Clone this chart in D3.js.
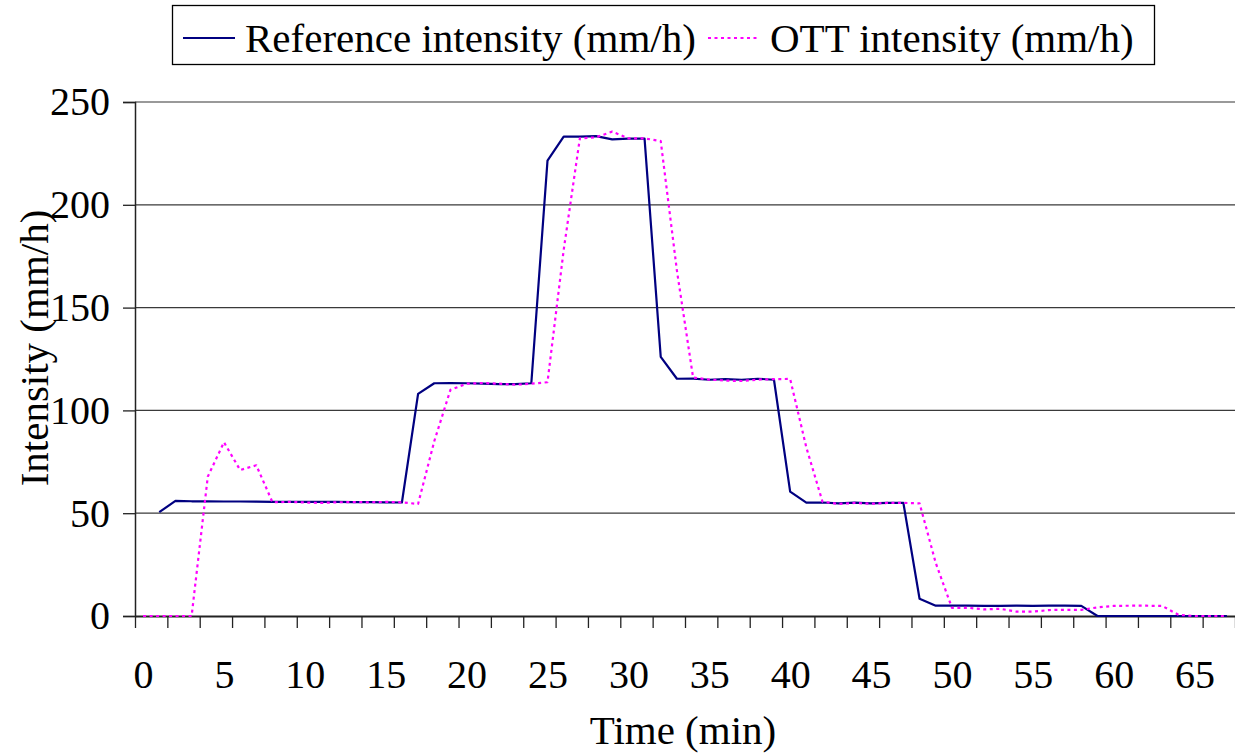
<!DOCTYPE html>
<html>
<head>
<meta charset="utf-8">
<script src="https://cdn.jsdelivr.net/npm/d3@7"></script>
<style>
  body { margin: 0; background: #fff; }
  svg text { font-family: "Liberation Serif", "Times New Roman", serif; fill: #000; }
</style>
</head>
<body>
<svg id="chart" width="1235" height="753"></svg>
<script>
// time in minutes (categories 0..67)
let minutes = d3.range(0, 68);

// reference intensity (mm/h), no value at t = 0
let ref_values = [null, 50.5, 56, 55.8, 55.8, 55.7, 55.7, 55.6, 55.5, 55.5,
  55.5, 55.5, 55.5, 55.4, 55.4, 55.3, 55.2, 108, 113.2, 113.3,
  113.2, 113, 112.8, 112.8, 113.2, 221.5, 233.2, 233.2, 233.4, 231.8,
  232.2, 232.2, 126, 115.4, 115.5, 114.9, 115.2, 114.9, 115.4, 114.9,
  60.5, 55.1, 55.2, 54.8, 55.1, 54.8, 55, 55, 8.4, 5.0,
  5.0, 5.0, 4.9, 4.9, 5.0, 4.9, 5.0, 5.0, 4.9, 0,
  0, 0, 0, 0, 0, 0, 0, 0];

// OTT intensity (mm/h)
let ott_values = [0, 0, 0, 0, 67.8, 84.5, 71, 73.3, 55.3, 55.5,
  55.2, 55, 55.3, 55.4, 55.3, 55.5, 55.3, 54.5, 85, 110,
  113, 113.3, 113, 112.5, 113, 113.7, 178, 232.3, 232.8, 235.6,
  232.3, 232.3, 231, 168, 116, 115, 114.5, 114.3, 115, 115.2,
  115.3, 82, 55.6, 54.5, 55, 54.6, 55, 55, 54.8, 25.8,
  4.0, 4.0, 3.2, 3.5, 2.1, 2.1, 2.9, 3.0, 3.0, 4.2,
  4.9, 5, 5, 4.9, 0.6, 0, 0, 0];

let y_ticks = [0, 50, 100, 150, 200, 250];
let x_label_ticks = d3.range(0, 70, 5);
let x_mark_ticks = d3.range(0, 69, 2);

let series = [
  {name: "Reference intensity (mm/h)", values: ref_values, color: "#000080", dash: null},
  {name: "OTT intensity (mm/h)", values: ott_values, color: "#ff00ff", dash: "3,3.5"}
];

/*** layout ***/
let svg = d3.select("#chart");
let plot = {left: 135, right: 1235, top: 102, bottom: 616};

let x = d3.scaleLinear().domain([0, minutes.length]).range([plot.left, plot.right]),
    y = d3.scaleLinear().domain([0, 250]).range([plot.bottom, plot.top]);

// gridlines
svg.append("g")
  .selectAll("line")
  .data(y_ticks.filter((d) => d > 0)).enter()
  .append("line")
  .attr("x1", plot.left)
  .attr("x2", plot.right)
  .attr("y1", (d) => y(d))
  .attr("y2", (d) => y(d))
  .attr("stroke", (d) => d === 250 ? "#999" : "#3a3a3a")
  .attr("stroke-width", (d) => d === 250 ? 2 : 1.3);

// y axis
let y_axis = svg.append("g")
  .attr("transform", `translate(${plot.left},0)`)
  .call(d3.axisLeft(y).tickValues(y_ticks).tickSize(12).tickPadding(13).tickFormat(d3.format("d")));
y_axis.select(".domain").attr("stroke", "#222").attr("stroke-width", 1.5);
y_axis.selectAll(".tick line").attr("stroke", "#222").attr("stroke-width", 1.3);
y_axis.selectAll(".tick text")
  .attr("font-size", 40)
  .attr("font-family", "Liberation Serif")
  .attr("fill", "#000");

// x axis: marks at category boundaries
let x_axis = svg.append("g")
  .attr("transform", `translate(0,${plot.bottom})`)
  .call(d3.axisBottom(x).tickValues(x_mark_ticks).tickSize(12).tickSizeOuter(0).tickFormat(""));
x_axis.select(".domain").attr("stroke", "#222").attr("stroke-width", 2);
x_axis.selectAll(".tick line").attr("stroke", "#222").attr("stroke-width", 1.3);

// x axis: labels centered on categories
let x_labels = svg.append("g")
  .attr("transform", `translate(0,${plot.bottom})`)
  .call(d3.axisBottom(x).tickValues(x_label_ticks.map((d) => d + 0.5)).tickSize(0).tickPadding(44)
    .tickFormat((d) => d3.format("d")(d - 0.5)));
x_labels.select(".domain").remove();
x_labels.selectAll(".tick text")
  .attr("font-size", 40)
  .attr("font-family", "Liberation Serif")
  .attr("fill", "#000");

// lines
let line = d3.line()
  .defined((d) => d.v !== null)
  .x((d) => x(d.t + 0.5))
  .y((d) => y(d.v));

svg.append("g")
  .selectAll("path")
  .data(series).enter()
  .append("path")
  .attr("d", (s) => line(minutes.map((t, i) => ({t: t, v: s.values[i]}))))
  .attr("fill", "none")
  .attr("stroke", (s) => s.color)
  .attr("stroke-width", 2.2)
  .attr("stroke-dasharray", (s) => s.dash)
  .attr("stroke-linejoin", "round");

// axis titles
svg.append("text")
  .attr("x", 683)
  .attr("y", 744)
  .attr("text-anchor", "middle")
  .attr("font-size", 41)
  .text("Time (min)");

svg.append("text")
  .attr("transform", "translate(48,348) rotate(-90)")
  .attr("text-anchor", "middle")
  .attr("font-size", 41)
  .text("Intensity (mm/h)");

// legend
let legend = svg.append("g");
legend.append("rect")
  .attr("x", 172.5)
  .attr("y", 5.5)
  .attr("width", 982)
  .attr("height", 59)
  .attr("fill", "#fff")
  .attr("stroke", "#000")
  .attr("stroke-width", 1.3);

let legend_x = [183, 708];
let items = legend.selectAll("g.item")
  .data(series).enter()
  .append("g")
  .attr("transform", (d, i) => `translate(${legend_x[i]},0)`);
items.append("line")
  .attr("x1", 0).attr("x2", 52)
  .attr("y1", 38).attr("y2", 38)
  .attr("stroke", (d) => d.color)
  .attr("stroke-width", 2.2)
  .attr("stroke-dasharray", (d) => d.dash);
items.append("text")
  .attr("x", 62)
  .attr("y", 52)
  .attr("font-size", 41)
  .text((d) => d.name);
</script>
</body>
</html>
